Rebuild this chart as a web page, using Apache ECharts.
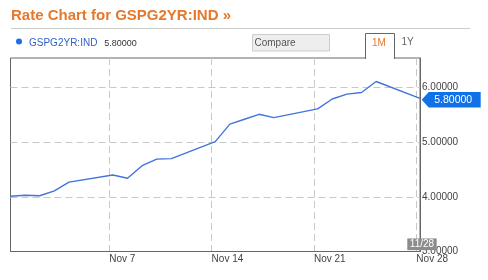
<!DOCTYPE html>
<html><head><meta charset="utf-8">
<script src="https://cdn.jsdelivr.net/npm/echarts@6/dist/echarts.min.js"></script>
<style>html,body{margin:0;padding:0;background:#fff}#c{width:488px;height:280px}</style>
</head><body><div id="c"></div>
<script>
const titleText = 'Rate Chart for GSPG2YR:IND \u00bb';
const seriesName = 'GSPG2YR:IND';
const compareText = 'Compare';
const rangeTabs = ['1M', '1Y'];
const dates = ['2011-10-31','2011-11-01','2011-11-02','2011-11-03','2011-11-04',
  '2011-11-07','2011-11-08','2011-11-09','2011-11-10','2011-11-11',
  '2011-11-14','2011-11-15','2011-11-16','2011-11-17','2011-11-18',
  '2011-11-21','2011-11-22','2011-11-23','2011-11-24','2011-11-25','2011-11-28'];
const values = [4.01,4.03,4.02,4.11,4.27,
  4.40,4.34,4.57,4.69,4.70,
  5.01,5.33,5.42,5.51,5.45,
  5.61,5.79,5.88,5.91,6.11,5.80];
const sampleHourUTC = 6;
const tickDates = ['2011-11-07','2011-11-14','2011-11-21','2011-11-28'];
const tickLabels = ['Nov 7','Nov 14','Nov 21','Nov 28'];
const yTicks = [3,4,5,6];
const yMin = 3, yMax = 6.54;
const lastDateLabel = '11/28';

function utc(d, h) { const p = d.split('-').map(Number); return Date.UTC(p[0], p[1]-1, p[2], h || 0); }
const xs = dates.map(d => utc(d, sampleHourUTC));
const data = xs.map((x, i) => [x, values[i]]);
const tickTs = tickDates.map(d => utc(d, 0));
const gridY = yTicks.filter(v => v > yMin);
const lastVal = values[values.length - 1];
const lastTs = xs[xs.length - 1];
const FONT = 'Liberation Sans, Arial, sans-serif';

function xLabel(v) {
  let best = -1, bd = Infinity;
  tickTs.forEach((t, i) => { const d = Math.abs(t - v); if (d < bd) { bd = d; best = i; } });
  return bd < 3600e3 ? tickLabels[best] : '';
}

const chart = echarts.init(document.getElementById('c'), null, {renderer: 'canvas'});
const option = {
  animation: false,
  grid: {left: 10.5, right: 68, top: 58, bottom: 28.5, show: true, borderColor: '#666', borderWidth: 1, backgroundColor: 'transparent'},
  xAxis: {
    type: 'value', min: xs[0], max: lastTs, scale: true,
    axisLine: {show: true, lineStyle: {color: '#666'}},
    axisTick: {show: false, customValues: tickTs},
    axisLabel: {customValues: tickTs, formatter: xLabel, align: 'left', color: '#444', fontSize: 10, fontFamily: FONT, margin: 3, hideOverlap: false},
    splitLine: {show: true, lineStyle: {color: '#c8c8c8', type: [7, 4], width: 1}}
  },
  yAxis: {
    type: 'value', position: 'right', min: yMin, max: yMax,
    axisLine: {show: true, lineStyle: {color: '#666'}},
    axisTick: {show: false, customValues: gridY},
    axisLabel: {customValues: yTicks, formatter: v => v.toFixed(5), color: '#444', fontSize: 10, fontFamily: FONT, margin: 2},
    splitLine: {show: true, lineStyle: {color: '#c8c8c8', type: [7, 4], width: 1}}
  },
  series: [{
    name: seriesName, type: 'line', data: data, showSymbol: false, symbol: 'none',
    lineStyle: {color: '#4374dc', width: 1.4},
    z: 3,
    markPoint: {
      silent: true, z: 10,
      data: [
        {coord: [lastTs, lastVal], value: lastVal,
         symbol: 'path://M0,7.75 L7,0 L59,0 L59,15.5 L7,15.5 Z', symbolKeepAspect: false,
         symbolSize: [59, 15.5], symbolOffset: [31.2, 1.2],
         itemStyle: {color: '#1172e8'},
         label: {show: true, position: 'inside', offset: [2, 0], formatter: p => Number(p.value).toFixed(5), color: '#fff', fontSize: 10.5, fontFamily: FONT}},
        {coord: [lastTs, yMin], value: 0,
         symbol: 'rect', symbolSize: [29.4, 11.7], symbolOffset: [2, -7.2],
         itemStyle: {color: '#8c8c8c'},
         label: {show: true, position: 'inside', formatter: () => lastDateLabel, color: '#fff', fontSize: 10, fontFamily: FONT}}
      ]
    }
  }],
  graphic: [
    {type: 'text', z: 50, style: {x: 11, y: 15.5, text: titleText, font: 'bold 15px ' + FONT, fill: '#e5782a', verticalAlign: 'middle'}},
    {type: 'line', z: 50, shape: {x1: 11, y1: 28.5, x2: 470, y2: 28.5}, style: {stroke: '#cccccc', lineWidth: 1}},
    {type: 'circle', z: 50, shape: {cx: 19, cy: 41.5, r: 3}, style: {fill: '#1a6fe8'}},
    {type: 'text', z: 50, style: {x: 29, y: 43.5, text: seriesName, font: '10px ' + FONT, fill: '#2f62c4', verticalAlign: 'middle'}},
    {type: 'text', z: 50, style: {x: 104.3, y: 43.5, text: lastVal.toFixed(5), font: '9px ' + FONT, fill: '#333', verticalAlign: 'middle'}},
    {type: 'rect', z: 50, shape: {x: 252.5, y: 34.5, width: 77, height: 16.5}, style: {fill: '#eeeeee', stroke: '#cccccc', lineWidth: 1}},
    {type: 'text', z: 51, style: {x: 254.5, y: 43.3, text: compareText, font: '10px ' + FONT, fill: '#555', verticalAlign: 'middle'}},
    {type: 'rect', z: 60, shape: {x: 366, y: 56, width: 28, height: 4}, style: {fill: '#fff'}},
    {type: 'polyline', z: 61, shape: {points: [[365.5, 59], [365.5, 33.5], [394.5, 33.5], [394.5, 59]]}, style: {stroke: '#666', fill: null, lineWidth: 1}},
    {type: 'text', z: 61, style: {x: 379, y: 43.5, text: rangeTabs[0], font: '10px ' + FONT, fill: '#e5782a', align: 'center', verticalAlign: 'middle'}},
    {type: 'text', z: 61, style: {x: 401.5, y: 42, text: rangeTabs[1], font: '10px ' + FONT, fill: '#666', verticalAlign: 'middle'}}
  ]
};
chart.setOption(option);
</script>
</body></html>
